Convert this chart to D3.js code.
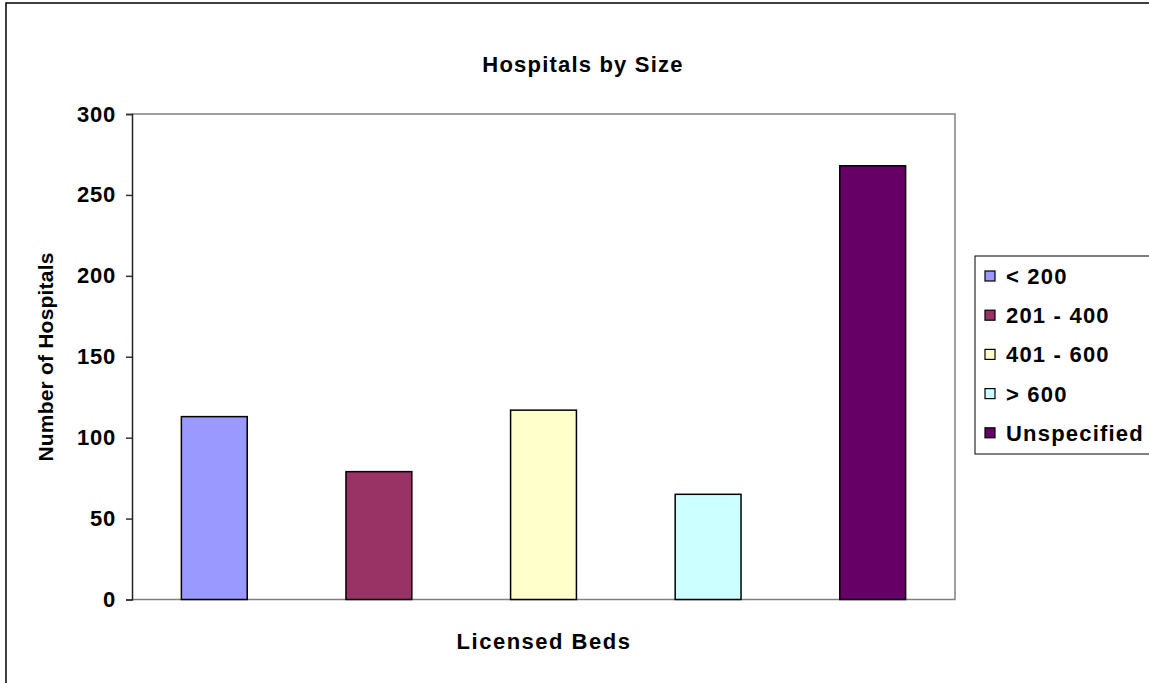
<!DOCTYPE html>
<html><head><meta charset="utf-8">
<script src="https://cdn.jsdelivr.net/npm/d3@7"></script>
<style>
html,body{margin:0;padding:0;background:#fff;}
svg text{font-family:"Liberation Sans",Arial,sans-serif;font-weight:bold;fill:#000;}
</style></head>
<body><svg id="c" width="1149" height="683"></svg>
<script>
const categories = ["< 200", "201 - 400", "401 - 600", "> 600", "Unspecified"];
const values = [113, 79, 117, 65, 268];
const colors = ["#9999FF", "#993366", "#FFFFCC", "#CCFFFF", "#660066"];
const yTicks = [0, 50, 100, 150, 200, 250, 300];
const title = "Hospitals by Size";
const xTitle = "Licensed Beds";
const yTitle = "Number of Hospitals";

const svg = d3.select("#c");
const P = {l: 132, r: 955, t: 114, b: 599.5};

svg.append("rect").attr("x", 6).attr("y", 3).attr("width", 1200).attr("height", 720)
  .attr("fill", "#fff").attr("stroke", "#000").attr("stroke-width", 1.5);

const x = d3.scaleBand().domain(categories).range([P.l, P.r]).paddingInner(0.6).paddingOuter(0.3);
const y = d3.scaleLinear().domain([0, 300]).range([P.b, P.t]);

svg.append("path").attr("d", `M${P.l},${P.t}H${P.r}V${P.b}H${P.l}`)
  .attr("fill", "none").attr("stroke", "#808080").attr("stroke-width", 1.5);

svg.selectAll("rect.bar").data(categories).enter().append("rect").attr("class", "bar")
  .attr("x", d => x(d)).attr("width", x.bandwidth())
  .attr("y", (d, i) => y(values[i])).attr("height", (d, i) => y(0) - y(values[i]))
  .attr("fill", (d, i) => colors[i]).attr("stroke", "#000").attr("stroke-width", 1.5);

const yAxis = svg.append("g").attr("transform", `translate(${P.l},0)`)
  .call(d3.axisLeft(y).tickValues(yTicks).tickSize(6).tickPadding(10).tickFormat(d3.format("d")));
yAxis.select(".domain").attr("stroke", "#222").attr("stroke-width", 1.5);
yAxis.selectAll(".tick line").attr("stroke", "#333").attr("stroke-width", 1.5);
yAxis.selectAll(".tick text").style("font-size", "22px").style("font-family", "Liberation Sans, Arial")
  .style("font-weight", "bold").style("letter-spacing", "0.8px").attr("fill", "#000");

svg.append("text").attr("x", 583).attr("y", 72).attr("text-anchor", "middle")
  .style("font-size", "22px").style("letter-spacing", "1.2px").text(title);
svg.append("text").attr("x", 544).attr("y", 649).attr("text-anchor", "middle")
  .style("font-size", "22px").style("letter-spacing", "1.5px").text(xTitle);
svg.append("text").attr("transform", "translate(53,357) rotate(-90)").attr("text-anchor", "middle")
  .style("font-size", "21px").style("letter-spacing", "0.2px").text(yTitle);

const lg = svg.append("g");
lg.append("rect").attr("x", 975).attr("y", 256).attr("width", 200).attr("height", 198)
  .attr("fill", "#fff").attr("stroke", "#000").attr("stroke-width", 1);
const items = lg.selectAll("g.it").data(categories).enter().append("g")
  .attr("transform", (d, i) => `translate(985,${276 + i * 39.2})`);
items.append("rect").attr("x", 0).attr("y", -5).attr("width", 10).attr("height", 10)
  .attr("fill", (d, i) => colors[i]).attr("stroke", "#000").attr("stroke-width", 1.2);
items.append("text").attr("x", 21).attr("y", 8).style("font-size", "22px").style("letter-spacing", "1.2px").text(d => d);
</script></body></html>
